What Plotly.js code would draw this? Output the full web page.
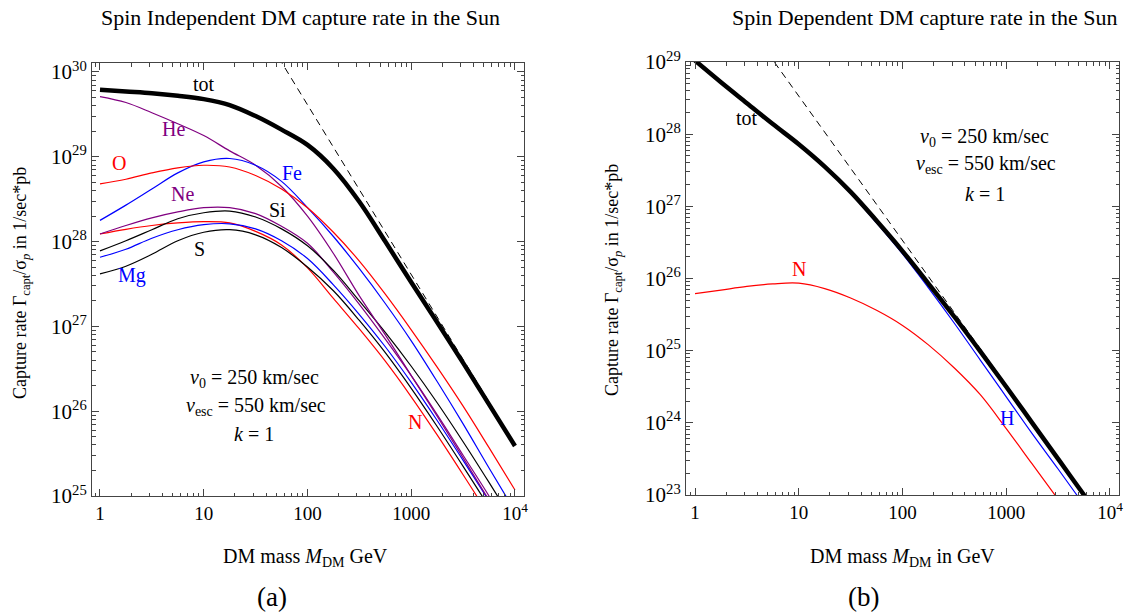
<!DOCTYPE html>
<html><head><meta charset="utf-8">
<script src="https://cdn.plot.ly/plotly-3.0.1.min.js"></script>
<style>html,body{margin:0;padding:0;background:#fff}#chart{width:1131px;height:612px}</style>
</head><body><div id="chart"></div>
<script>
// DM mass grid in GeV (shared by all curves)
const massGeV = [1, 1.778, 3.162, 5.623, 10, 17.78, 31.62, 56.23, 100, 177.8, 316.2, 562.3, 1000, 1778, 3162, 5623, 10000];

// Panel (a) spin independent: log10 of capture rate per element
const siTot = [29.79, 29.77, 29.75, 29.72, 29.68, 29.61, 29.48, 29.32, 29.14, 28.86, 28.47, 28.00, 27.52, 27.05, 26.57, 26.08, 25.59];
const siHe  = [29.71, 29.64, 29.52, 29.39, 29.25, 29.07, 28.90, 28.65, 28.30, 27.86, 27.36, 26.90, 26.42, 25.94, 25.45, 24.95, 24.45];
const siO   = [28.68, 28.735, 28.81, 28.87, 28.90, 28.88, 28.78, 28.62, 28.40, 28.11, 27.77, 27.38, 26.96, 26.52, 26.06, 25.57, 25.07];
const siFe  = [28.25, 28.43, 28.62, 28.81, 28.94, 28.98, 28.90, 28.71, 28.40, 28.06, 27.68, 27.27, 26.83, 26.35, 25.85, 25.33, 24.82];
const siNe  = [28.09, 28.19, 28.28, 28.35, 28.40, 28.40, 28.33, 28.18, 27.98, 27.64, 27.26, 26.85, 26.42, 25.96, 25.48, 25.00, 24.50];
const siSi  = [27.89, 28.01, 28.14, 28.27, 28.34, 28.36, 28.29, 28.15, 27.95, 27.66, 27.30, 26.93, 26.53, 26.10, 25.64, 25.16, 24.67];
const siN   = [28.09, 28.145, 28.19, 28.22, 28.235, 28.22, 28.12, 27.96, 27.69, 27.33, 26.97, 26.59, 26.17, 25.72, 25.25, 24.77, 24.27];
const siMg  = [27.815, 27.91, 28.04, 28.14, 28.20, 28.21, 28.15, 28.01, 27.80, 27.49, 27.14, 26.76, 26.34, 25.89, 25.42, 24.94, 24.44];
const siS   = [27.62, 27.71, 27.85, 28.01, 28.11, 28.14, 28.08, 27.93, 27.70, 27.42, 27.07, 26.69, 26.27, 25.82, 25.35, 24.87, 24.37];
// large-mass asymptote (dashed)
const siAsymMass = [40, 10000];
const siAsymLog  = [30.41, 25.61];

// Panel (b) spin dependent: log10 of capture rate
const sdTot = [29.02, 28.72, 28.43, 28.14, 27.86, 27.55, 27.20, 26.80, 26.38, 25.93, 25.47, 24.99, 24.50, 24.00, 23.50, 23.00, 22.50];
const sdH   = [29.01, 28.71, 28.42, 28.13, 27.85, 27.54, 27.18, 26.77, 26.34, 25.87, 25.38, 24.87, 24.36, 23.85, 23.36, 22.86, 22.36];
const sdN   = [25.79, 25.84, 25.89, 25.925, 25.935, 25.86, 25.73, 25.56, 25.35, 25.08, 24.76, 24.39, 23.92, 23.43, 22.94, 22.45, 21.95];
const sdAsymMass = [5, 6000];
const sdAsymLog  = [29.13, 22.97];

// Tick labels
const xTickVals = [1, 10, 100, 1000, 10000];
const xTickText = ['1', '10', '100', '1000', '10<sup>4</sup>'];
const siYExp = [25, 26, 27, 28, 29, 30];
const sdYExp = [23, 24, 25, 26, 27, 28, 29];

const PURPLE = '#800080', RED = '#ff0000', BLUE = '#0000ff', BLACK = '#000000';
const toVal = a => a.map(v => Math.pow(10, v));

function line(x, ylog, color, width, xa, ya, dash) {
  return {x: x, y: toVal(ylog), xaxis: xa, yaxis: ya, mode: 'lines', hoverinfo: 'skip',
          line: {color: color, width: width, shape: dash ? 'linear' : 'spline', smoothing: 1, dash: dash || 'solid'}};
}

const traces = [
  line(massGeV, siN, RED, 1.2, 'x', 'y'),
  line(massGeV, siS, BLACK, 1.2, 'x', 'y'),
  line(massGeV, siMg, BLUE, 1.2, 'x', 'y'),
  line(massGeV, siNe, PURPLE, 1.2, 'x', 'y'),
  line(massGeV, siSi, BLACK, 1.2, 'x', 'y'),
  line(massGeV, siHe, PURPLE, 1.2, 'x', 'y'),
  line(massGeV, siFe, BLUE, 1.2, 'x', 'y'),
  line(massGeV, siO, RED, 1.2, 'x', 'y'),
  line(siAsymMass, siAsymLog, BLACK, 1, 'x', 'y', '7px,5px'),
  line(massGeV, siTot, BLACK, 4.5, 'x', 'y'),
  line(massGeV, sdN, RED, 1.2, 'x2', 'y2'),
  line(massGeV, sdH, BLUE, 1.2, 'x2', 'y2'),
  line(sdAsymMass, sdAsymLog, BLACK, 1, 'x2', 'y2', '7px,5px'),
  line(massGeV, sdTot, BLACK, 4.5, 'x2', 'y2')
];

// minor tick positions (2..9 within each decade)
function minorVals(loExp, hiExp) {
  const v = [];
  for (let d = loExp; d <= hiExp; d++) for (let k = 2; k <= 9; k++) v.push(k * Math.pow(10, d));
  return v;
}

const FONT = 'Liberation Serif, Times New Roman, serif';
const AX = '#444';
function xAxis(domain, range) {
  return {type: 'log', domain: domain, range: range, tickmode: 'array', tickvals: xTickVals, ticktext: xTickText,
    ticks: 'inside', ticklen: 7, tickwidth: 1, tickcolor: AX, showline: true, linecolor: AX, linewidth: 1,
    mirror: 'allticks', showgrid: false, zeroline: false, tickfont: {family: FONT, size: 19, color: '#000'},
    minor: {tickmode: 'array', tickvals: minorVals(-1, 4), ticks: 'inside', ticklen: 3.5, tickcolor: AX, tickwidth: 1, showgrid: false}};
}
function yAxis(domain, range, exps) {
  return {type: 'log', domain: domain, range: range, tickmode: 'array',
    tickvals: exps.map(e => Math.pow(10, e)), ticktext: exps.map(e => '10<sup>' + e + '</sup>'),
    ticks: 'inside', ticklen: 7, tickwidth: 1, tickcolor: AX, showline: true, linecolor: AX, linewidth: 1,
    mirror: 'allticks', showgrid: false, zeroline: false, tickfont: {family: FONT, size: 21, color: '#000'},
    minor: {tickmode: 'array', tickvals: minorVals(exps[0], exps[exps.length - 1]), ticks: 'inside', ticklen: 3.5, tickcolor: AX, tickwidth: 1, showgrid: false}};
}

const W = 1131, H = 612;
function ann(px, py, text, size, color, extra) {
  return Object.assign({xref: 'paper', yref: 'paper', x: px / W, y: 1 - py / H, text: text, showarrow: false,
    xanchor: 'center', yanchor: 'middle', font: {family: FONT, size: size, color: color || '#000'}}, extra || {});
}
const yTitle = 'Capture rate \u0393<sub>capt</sub>/\u03c3<sub><i>p</i></sub> in 1/sec*pb';
const annotations = [
  ann(300, 17, 'Spin Independent DM capture rate in the Sun', 22),
  ann(925, 17, 'Spin Dependent DM capture rate in the Sun', 22),
  ann(21, 283, yTitle, 18, '#000', {textangle: -90}),
  ann(614, 280, yTitle, 18, '#000', {textangle: -90}),
  ann(305, 557, 'DM mass <i>M</i><sub>DM</sub> GeV', 20),
  ann(902, 557, 'DM mass <i>M</i><sub>DM</sub> in GeV', 20),
  ann(272, 597, '(a)', 27),
  ann(864, 597, '(b)', 27),
  ann(254, 378, '<i>v</i><sub>0</sub> = 250 km/sec', 20),
  ann(256, 406, '<i>v</i><sub>esc</sub> = 550 km/sec', 20),
  ann(254, 434, '<i>k</i> = 1', 20),
  ann(984, 137, '<i>v</i><sub>0</sub> = 250 km/sec', 20),
  ann(986, 165, '<i>v</i><sub>esc</sub> = 550 km/sec', 20),
  ann(985, 194, '<i>k</i> = 1', 20),
  ann(204, 84, 'tot', 20),
  ann(173, 129, 'He', 20, PURPLE),
  ann(119, 163, 'O', 20, RED),
  ann(182, 194, 'Ne', 20, PURPLE),
  ann(292, 173, 'Fe', 20, BLUE),
  ann(277, 210, 'Si', 20),
  ann(199, 249, 'S', 20),
  ann(132, 275, 'Mg', 20, BLUE),
  ann(415, 422, 'N', 20, RED),
  ann(747, 118, 'tot', 20),
  ann(799, 269, 'N', 20, RED),
  ann(1007, 418, 'H', 20, BLUE)
];

const layout = {
  width: W, height: H, margin: {l: 0, r: 0, t: 0, b: 0}, showlegend: false,
  paper_bgcolor: '#fff', plot_bgcolor: '#fff', font: {family: FONT},
  xaxis: Object.assign(xAxis([92 / W, 524 / W], [-0.077, 4.087]), {anchor: 'y'}),
  yaxis: Object.assign(yAxis([1 - 496 / H, 1 - 63 / H], [25, 30.106], siYExp), {anchor: 'x'}),
  xaxis2: Object.assign(xAxis([686 / W, 1119 / W], [-0.087, 4.087]), {anchor: 'y2'}),
  yaxis2: Object.assign(yAxis([1 - 495 / H, 1 - 62 / H], [23, 29], sdYExp), {anchor: 'x2'}),
  annotations: annotations
};
Plotly.newPlot('chart', traces, layout, {staticPlot: true, displayModeBar: false});
</script>
</body></html>
